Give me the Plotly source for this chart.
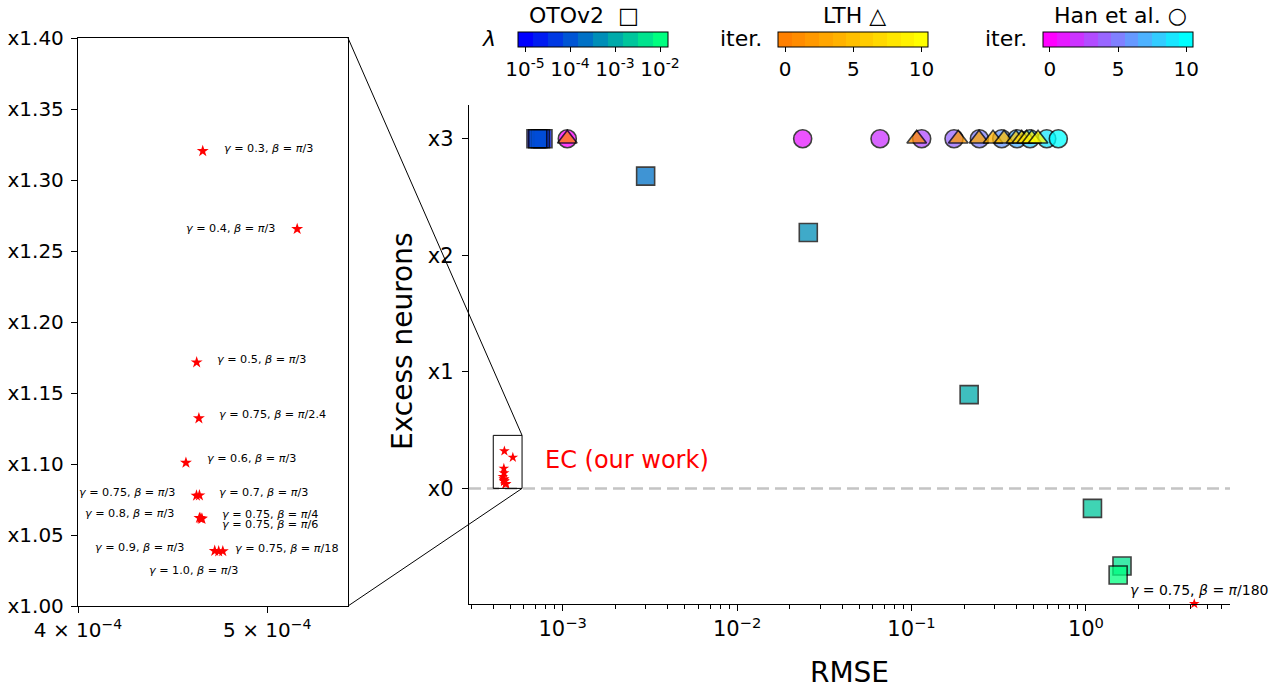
import math
import plotly.graph_objects as go

# ---------------------------------------------------------------- data
# OTOv2: regularisation strength lambda, RMSE, excess neurons
otov2_lambda = [1e-5, 2.15e-5, 4.64e-5, 1e-4, 2.15e-4, 4.64e-4, 1e-3, 2.15e-3, 4.64e-3, 1e-2]
otov2_rmse = [7.03e-4, 7.71e-4, 7.45e-4, 7.2e-4, 2.99e-3, 0.0256, 0.214, 1.09, 1.61, 1.53]
otov2_excess = [3, 3, 3, 3, 2.68, 2.196, 0.805, -0.171, -0.666, -0.743]

# LTH: pruning iteration, RMSE, excess neurons
lth_iter = [0, 1, 2, 3, 4, 5, 6, 7, 8, 9, 10]
lth_rmse = [1.063e-3, 0.1071, 0.1854, 0.2438, 0.2933, 0.3391, 0.3973, 0.4284, 0.4576, 0.4890, 0.5314]
lth_excess = [3, 3, 3, 3, 3, 3, 3, 3, 3, 3, 3]

# Han et al.: pruning iteration, RMSE, excess neurons
han_iter = [0, 1, 2, 3, 4, 5, 6, 7, 8, 9, 10]
han_rmse = [1.063e-3, 0.02377, 0.0660, 0.1144, 0.1753, 0.245, 0.3291, 0.4027, 0.478, 0.596, 0.6946]
han_excess = [3, 3, 3, 3, 3, 3, 3, 3, 3, 3, 3]

# EC (our work): gamma, beta, RMSE and size ratio
ec_gamma = ["0.3", "0.4", "0.5", "0.75", "0.6", "0.75", "0.7", "0.8", "0.75", "0.75", "0.9", "0.75", "1.0", "0.75"]
ec_beta = ["π/3", "π/3", "π/3", "π/2.4", "π/3", "π/3", "π/3", "π/3", "π/4", "π/6", "π/3", "π/18", "π/3", "π/180"]
ec_rmse = [4.634e-4, 5.18e-4, 4.601e-4, 4.613e-4, 4.543e-4, 4.600e-4, 4.616e-4, 4.616e-4, 4.624e-4,
           4.630e-4, 4.700e-4, 4.745e-4, 4.722e-4, 4.18]
ec_ratio = [1.3204, 1.2655, 1.1716, 1.1322, 1.1009, 1.0777, 1.0779, 1.0620, 1.0617, 1.0614,
            1.0388, 1.0386, 1.0385, 0.01]

main_yticks = [0, 1, 2, 3]
main_yticktext = ["x0", "x1", "x2", "x3"]
main_xticks = [1e-3, 1e-2, 1e-1, 1]
main_xticktext = ["10<sup>−3</sup>", "10<sup>−2</sup>", "10<sup>−1</sup>", "10<sup>0</sup>"]
inset_yticks = [1.00, 1.05, 1.10, 1.15, 1.20, 1.25, 1.30, 1.35, 1.40]
inset_yticktext = ["x1.00", "x1.05", "x1.10", "x1.15", "x1.20", "x1.25", "x1.30", "x1.35", "x1.40"]
inset_xticks = [4e-4, 5e-4]
inset_xticktext = ["4 × 10<sup>−4</sup>", "5 × 10<sup>−4</sup>"]
lambda_ticks = [1e-5, 1e-4, 1e-3, 1e-2]
lambda_ticktext = ["10<sup>-5</sup>", "10<sup>-4</sup>", "10<sup>-3</sup>", "10<sup>-2</sup>"]
iter_ticks = [0, 5, 10]

# ---------------------------------------------------------------- layout geometry
W, H = 1281, 689
FONT = "DejaVu Sans"


def fx(p):
    return p / W


def fy(p):
    return 1 - p / H


MAIN_XDOM = [fx(469), fx(1230)]
MAIN_YDOM = [fy(604), fy(105)]
MAIN_XRANGE = [-3.537, 0.826]
MAIN_YRANGE = [-0.992, 3.29]
INSET_XDOM = [fx(78), fx(348)]
INSET_YDOM = [fy(606), fy(38)]
INSET_XRANGE = [math.log10(4e-4), math.log10(5.5e-4)]
INSET_YRANGE = [1.0, 1.4]
ZOOM_BOX_X = [4e-4, 5.85e-4]
ZOOM_BOX_Y = [0, 0.455]


def main_to_paper(x, y):
    lx = math.log10(x)
    px = MAIN_XDOM[0] + (lx - MAIN_XRANGE[0]) / (MAIN_XRANGE[1] - MAIN_XRANGE[0]) * (MAIN_XDOM[1] - MAIN_XDOM[0])
    py = MAIN_YDOM[0] + (y - MAIN_YRANGE[0]) / (MAIN_YRANGE[1] - MAIN_YRANGE[0]) * (MAIN_YDOM[1] - MAIN_YDOM[0])
    return px, py


def discrete_scale(colors):
    n = len(colors)
    scale = []
    for i, c in enumerate(colors):
        scale.append([i / n, c])
        scale.append([(i + 1) / n, c])
    return scale


def rgb(r, g, b):
    return f"rgb({round(r * 255)},{round(g * 255)},{round(b * 255)})"


# winter (10 bins), orange->yellow autumn (11 bins), reversed cool (11 bins)
winter_cols = [rgb(0, i / 9, 1 - 0.5 * i / 9) for i in range(10)]
autumn_cols = [rgb(1, 0.5 + 0.05 * i, 0) for i in range(11)]
cool_r_cols = [rgb(1 - i / 10, i / 10, 1) for i in range(11)]

log_lambda = [math.log10(v) for v in otov2_lambda]


def cbar(cx, tickvals, ticktext):
    return dict(
        orientation="h", x=fx(cx), xanchor="center", y=fy(32), yanchor="top",
        len=150, lenmode="pixels", thickness=15, thicknessmode="pixels",
        outlinewidth=1, outlinecolor="black", xpad=0, ypad=0,
        ticks="outside", ticklen=5, tickwidth=1, tickcolor="black",
        tickvals=tickvals, ticktext=ticktext,
        tickfont=dict(size=20, family=FONT, color="black"),
    )


fig = go.Figure()

edge = dict(color="black", width=1.6)

fig.add_trace(go.Scatter(
    x=han_rmse, y=han_excess, mode="markers", name="Han et al.",
    marker=dict(symbol="circle", size=18, color=han_iter, coloraxis="coloraxis3",
                opacity=0.75, line=edge),
    xaxis="x", yaxis="y", showlegend=False,
))
fig.add_trace(go.Scatter(
    x=lth_rmse, y=lth_excess, mode="markers", name="LTH",
    marker=dict(symbol="triangle-up", size=17, color=lth_iter, coloraxis="coloraxis2",
                opacity=0.75, line=edge),
    xaxis="x", yaxis="y", showlegend=False,
))
fig.add_trace(go.Scatter(
    x=otov2_rmse, y=otov2_excess, mode="markers", name="OTOv2",
    marker=dict(symbol="square", size=18, color=log_lambda, coloraxis="coloraxis",
                opacity=0.75, line=edge),
    xaxis="x", yaxis="y", showlegend=False,
))
fig.add_trace(go.Scatter(
    x=ec_rmse, y=[r - 1 for r in ec_ratio], mode="markers", name="EC",
    marker=dict(symbol="star", size=8, color="red", line=dict(width=0)),
    xaxis="x", yaxis="y", showlegend=False, cliponaxis=False,
))
# zoomed view of the EC cluster
n_in = len(ec_ratio) - 1
fig.add_trace(go.Scatter(
    x=ec_rmse[:n_in], y=ec_ratio[:n_in], mode="markers", name="EC zoom",
    marker=dict(symbol="star", size=9, color="red", line=dict(width=0)),
    xaxis="x2", yaxis="y2", showlegend=False,
))

# label placement for the EC points: (anchor, x shift, y shift) in pixels
ec_label_pos = [
    ("left", 19, 3), ("right", -20, 0), ("left", 18, 3), ("left", 18, 4), ("left", 19, 4),
    ("right", -20, 3), ("left", 18, 3), ("right", -23, 4), ("left", 19, 4), ("left", 18, -6),
    ("right", -29, 3), ("left", 10, 3), ("center", -25, -19),
]

annotations = []
for i in range(n_in):
    anchor, dx, dy = ec_label_pos[i]
    annotations.append(dict(
        x=math.log10(ec_rmse[i]), y=ec_ratio[i], xref="x2", yref="y2",
        text=f"<i>γ</i> = {ec_gamma[i]}, <i>β</i> = <i>π</i>{ec_beta[i][1:]}",
        showarrow=False, xanchor=anchor, yanchor="middle", xshift=dx, yshift=dy,
        font=dict(size=11.2, family=FONT, color="black"),
    ))
annotations.append(dict(
    x=math.log10(ec_rmse[-1]), y=ec_ratio[-1] - 1, xref="x", yref="y",
    text=f"<i>γ</i> = {ec_gamma[-1]}, <i>β</i> = <i>π</i>{ec_beta[-1][1:]}",
    showarrow=False, xanchor="left", yanchor="middle", xshift=-66, yshift=14,
    font=dict(size=14, family=FONT, color="black"),
))
annotations.append(dict(
    x=-3.113, y=0.24, xref="x", yref="y", text="EC (our work)", showarrow=False,
    xanchor="left", yanchor="middle", font=dict(size=24, family=FONT, color="red"),
))
# y-axis label of the main panel
annotations.append(dict(
    x=fx(402), y=fy(341), xref="paper", yref="paper", text="Excess neurons", showarrow=False,
    textangle=-90, xanchor="center", yanchor="middle",
    font=dict(size=28, family=FONT, color="black"),
))

# colour bar headings and side labels
for text, cx in [("OTOv2  □", 584), ("LTH △", 854), ("Han et al. ○", 1120)]:
    annotations.append(dict(
        x=fx(cx), y=fy(15), xref="paper", yref="paper", text=text, showarrow=False,
        xanchor="center", yanchor="middle", font=dict(size=22, family=FONT, color="black"),
    ))
for text, rx in [("<i>λ</i>", 498), ("iter.", 764), ("iter.", 1029)]:
    annotations.append(dict(
        x=fx(rx), y=fy(39), xref="paper", yref="paper", text=text, showarrow=False,
        xanchor="right", yanchor="middle", font=dict(size=22, family=FONT, color="black"),
    ))

# zoom box, its connectors and the zero line
box_l, box_b = main_to_paper(ZOOM_BOX_X[0], ZOOM_BOX_Y[0])
box_r, box_t = main_to_paper(ZOOM_BOX_X[1], ZOOM_BOX_Y[1])
shapes = [
    dict(type="line", xref="x domain", yref="y", x0=0, x1=1, y0=0, y1=0,
         line=dict(color="#c4c4c4", width=2.5, dash="12px,6px"), layer="below"),
    dict(type="rect", xref="paper", yref="paper", x0=box_l, x1=box_r, y0=box_b, y1=box_t,
         line=dict(color="black", width=1)),
    dict(type="line", xref="paper", yref="paper", x0=INSET_XDOM[1], y0=INSET_YDOM[1],
         x1=box_r, y1=box_t, line=dict(color="black", width=1)),
    dict(type="line", xref="paper", yref="paper", x0=INSET_XDOM[1], y0=INSET_YDOM[0],
         x1=box_r, y1=box_b, line=dict(color="black", width=1)),
]

axis_common = dict(
    showline=True, linecolor="black", linewidth=1.3, ticks="outside", ticklen=6,
    tickwidth=1.3, tickcolor="black", showgrid=False, zeroline=False,
    tickfont=dict(size=21, family=FONT, color="black"), automargin=False,
)

fig.update_layout(
    width=W, height=H, margin=dict(l=0, r=0, t=0, b=0),
    paper_bgcolor="white", plot_bgcolor="white",
    font=dict(family=FONT, color="black"),
    xaxis=dict(
        domain=MAIN_XDOM, type="log", range=MAIN_XRANGE, anchor="y",
        tickmode="array", tickvals=main_xticks, ticktext=main_xticktext,
        minor=dict(ticks="outside", ticklen=3.5, tickwidth=1, tickcolor="black",
                   dtick="D1", showgrid=False),
        title=dict(text="RMSE", font=dict(size=28, family=FONT, color="black"), standoff=22),
        **axis_common,
    ),
    yaxis=dict(
        domain=MAIN_YDOM, range=MAIN_YRANGE, anchor="x",
        tickmode="array", tickvals=main_yticks, ticktext=main_yticktext,
        ticklabelstandoff=4,
        **axis_common,
    ),
    xaxis2=dict(
        domain=INSET_XDOM, type="log", range=INSET_XRANGE, anchor="y2", mirror=True,
        tickmode="array", tickvals=inset_xticks, ticktext=inset_xticktext,
        **{**axis_common, "tickfont": dict(size=20, family=FONT, color="black")},
    ),
    yaxis2=dict(
        domain=INSET_YDOM, range=INSET_YRANGE, anchor="x2", mirror=True,
        tickmode="array", tickvals=inset_yticks, ticktext=inset_yticktext,
        ticklabelstandoff=3,
        **{**axis_common, "tickfont": dict(size=20, family=FONT, color="black")},
    ),
    coloraxis=dict(colorscale=discrete_scale(winter_cols), cmin=-5 - 1 / 6, cmax=-2 + 1 / 6,
                   colorbar=cbar(592.5, [math.log10(v) for v in lambda_ticks], lambda_ticktext)),
    coloraxis2=dict(colorscale=discrete_scale(autumn_cols), cmin=-0.5, cmax=10.5,
                    colorbar=cbar(853.3, iter_ticks, [str(v) for v in iter_ticks])),
    coloraxis3=dict(colorscale=discrete_scale(cool_r_cols), cmin=-0.5, cmax=10.5,
                    colorbar=cbar(1118, iter_ticks, [str(v) for v in iter_ticks])),
    shapes=shapes,
    annotations=annotations,
)

fig.write_html("out.html")
